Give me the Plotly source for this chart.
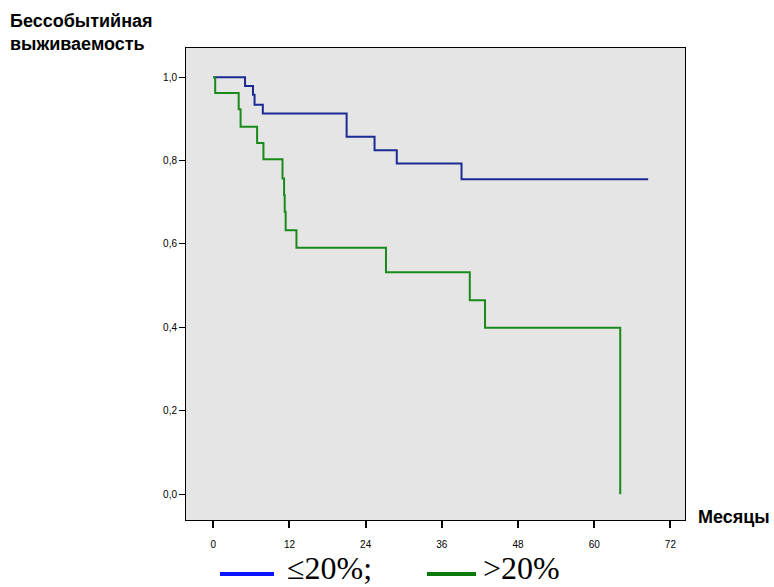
import plotly.graph_objects as go

# Data
months_low = [0, 5.0, 6.25, 6.5, 7.8, 21.0, 25.4, 28.9, 39.1, 68.5]
surv_low = [1.0, 0.979, 0.958, 0.934, 0.913, 0.857, 0.825, 0.793, 0.755, 0.755]

months_high = [0, 0.3, 4.0, 4.3, 6.9, 7.9, 10.9, 11.15, 11.25, 11.4, 13.1, 27.2, 40.4, 42.8, 64.1]
surv_high = [1.0, 0.962, 0.923, 0.881, 0.842, 0.803, 0.757, 0.717, 0.677, 0.633, 0.591, 0.532, 0.465, 0.399, 0.0]

x_ticks = [0, 12, 24, 36, 48, 60, 72]
y_ticks = [0.0, 0.2, 0.4, 0.6, 0.8, 1.0]
y_tick_labels = ["0,0", "0,2", "0,4", "0,6", "0,8", "1,0"]
legend_labels = ["≤20%;", ">20%"]

fig = go.Figure()
fig.add_trace(go.Scatter(x=months_low, y=surv_low, mode="lines", line_shape="hv",
                         line=dict(color="#1b2a94", width=2), showlegend=False))
fig.add_trace(go.Scatter(x=months_high, y=surv_high, mode="lines", line_shape="hv",
                         line=dict(color="#1a8a1a", width=2), showlegend=False))

L, R, T, B = 186, 89, 48, 67
W, H = 774, 587
pw, ph = W - L - R, H - T - B

def px(xp):
    return (xp - L) / pw

def py(yp):
    return (H - B - yp) / ph

fig.update_layout(
    width=W, height=H,
    margin=dict(l=L, r=R, t=T, b=B),
    paper_bgcolor="white",
    plot_bgcolor="#e5e5e5",
    font=dict(family="Arial", size=10, color="black"),
    xaxis=dict(range=[-4.3, 74.3], tickvals=x_ticks, ticktext=[str(v) for v in x_ticks],
               showgrid=False, zeroline=False, showline=True, linecolor="black", linewidth=1,
               mirror=True, ticks="outside", ticklen=7, tickwidth=2, tickcolor="black",
               ticklabelstandoff=8),
    yaxis=dict(range=[-0.062, 1.07], tickvals=y_ticks, ticktext=y_tick_labels,
               showgrid=False, zeroline=False, showline=True, linecolor="black", linewidth=1,
               mirror=True, ticks="outside", ticklen=6, tickwidth=1, tickcolor="black"),
    showlegend=False,
)

fig.add_annotation(text="<b>Бессобытийная<br>выживаемость</b>", xref="paper", yref="paper",
                   x=px(8), y=py(9), xanchor="left", yanchor="top", align="left",
                   showarrow=False, font=dict(family="Arial", size=18, color="black"))
fig.add_annotation(text="<b>Месяцы</b>", xref="paper", yref="paper",
                   x=px(696), y=py(517), xanchor="left", yanchor="middle",
                   showarrow=False, font=dict(family="Arial", size=18, color="black"))

# Legend
fig.add_shape(type="line", xref="paper", yref="paper", x0=px(220), x1=px(274),
              y0=py(574), y1=py(574), line=dict(color="#0a14ff", width=4))
fig.add_annotation(text=legend_labels[0], xref="paper", yref="paper", x=px(286), y=py(587),
                   xanchor="left", yanchor="bottom", showarrow=False, borderpad=0,
                   font=dict(family="Liberation Serif", size=32, color="black"))
fig.add_shape(type="line", xref="paper", yref="paper", x0=px(427), x1=px(476),
              y0=py(574), y1=py(574), line=dict(color="#0a7a0a", width=4))
fig.add_annotation(text=legend_labels[1], xref="paper", yref="paper", x=px(482), y=py(587),
                   xanchor="left", yanchor="bottom", showarrow=False, borderpad=0,
                   font=dict(family="Liberation Serif", size=32, color="black"))

fig.write_html("out.html")
